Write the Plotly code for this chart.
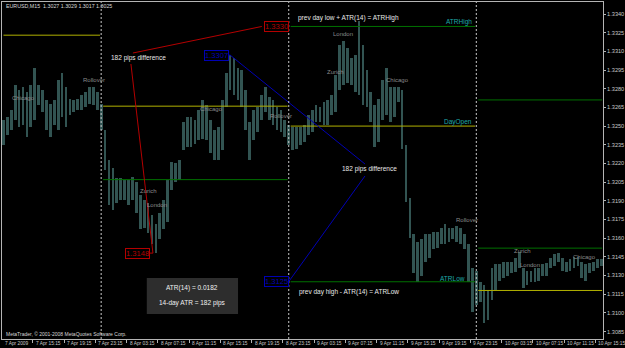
import plotly.graph_objects as go

# ---------------- data ----------------
# bar index = number of 15-minute bars after 8 Apr 2009 00:00 (sampled every 2 bars)
bar_index = list(range(-50, 257, 2))

highs = [
    1.3255, 1.3257, 1.3263, 1.3283, 1.3279, 1.3281, 1.3277, 1.3283, 1.3297, 1.3283,
    1.3279, 1.3271, 1.3268, 1.3271, 1.3287, 1.3293, 1.3281, 1.3272, 1.3271, 1.3272,
    1.3275, 1.3277, 1.3281, 1.3281, 1.3277, 1.3268, 1.3247, 1.3223, 1.3216, 1.3208,
    1.3208, 1.3207, 1.3207, 1.3209, 1.3205, 1.3195, 1.3191, 1.3188, 1.3179, 1.3171,
    1.3180, 1.3191, 1.3207, 1.3221, 1.3220, 1.3223, 1.3253, 1.3257, 1.3257, 1.3255,
    1.3263, 1.3271, 1.3267, 1.3255, 1.3247, 1.3249, 1.3271, 1.3293, 1.3307, 1.3305,
    1.3297, 1.3295, 1.3279, 1.3253, 1.3263, 1.3265, 1.3275, 1.3281, 1.3273, 1.3271,
    1.3265, 1.3263, 1.3255, 1.3251, 1.3249, 1.3249, 1.3249, 1.3251, 1.3259, 1.3263,
    1.3267, 1.3265, 1.3269, 1.3271, 1.3275, 1.3291, 1.3315, 1.3318, 1.3313, 1.3305,
    1.3307, 1.3334, 1.3315, 1.3295, 1.3277, 1.3267, 1.3272, 1.3287, 1.3297, 1.3281,
    1.3281, 1.3281, 1.3279, 1.3235, 1.3192, 1.3163, 1.3157, 1.3159, 1.3163, 1.3163,
    1.3165, 1.3165, 1.3168, 1.3171, 1.3168, 1.3168, 1.3170, 1.3168, 1.3163, 1.3155,
    1.3136, 1.3134, 1.3125, 1.3122, 1.3118, 1.3136, 1.3139, 1.3139, 1.3141, 1.3141,
    1.3141, 1.3144, 1.3149, 1.3136, 1.3134, 1.3134, 1.3136, 1.3136, 1.3139, 1.3140,
    1.3144, 1.3147, 1.3148, 1.3144, 1.3141, 1.3143, 1.3145, 1.3145, 1.3141, 1.3139,
    1.3140, 1.3141, 1.3143, 1.3143,
]

lows = [
    1.3235, 1.3243, 1.3247, 1.3255, 1.3249, 1.3251, 1.3241, 1.3249, 1.3255, 1.3267,
    1.3261, 1.3247, 1.3241, 1.3251, 1.3247, 1.3257, 1.3249, 1.3259, 1.3261, 1.3263,
    1.3263, 1.3265, 1.3268, 1.3267, 1.3263, 1.3247, 1.3215, 1.3187, 1.3183, 1.3188,
    1.3191, 1.3191, 1.3187, 1.3191, 1.3180, 1.3167, 1.3168, 1.3164, 1.3155, 1.3148,
    1.3159, 1.3167, 1.3173, 1.3199, 1.3205, 1.3207, 1.3231, 1.3233, 1.3233, 1.3236,
    1.3239, 1.3240, 1.3239, 1.3228, 1.3223, 1.3223, 1.3231, 1.3265, 1.3279, 1.3275,
    1.3271, 1.3265, 1.3247, 1.3223, 1.3239, 1.3245, 1.3255, 1.3261, 1.3255, 1.3251,
    1.3247, 1.3245, 1.3241, 1.3235, 1.3231, 1.3232, 1.3235, 1.3237, 1.3243, 1.3245,
    1.3253, 1.3253, 1.3251, 1.3251, 1.3259, 1.3261, 1.3279, 1.3283, 1.3285, 1.3283,
    1.3277, 1.3275, 1.3267, 1.3265, 1.3253, 1.3233, 1.3237, 1.3255, 1.3259, 1.3253,
    1.3257, 1.3269, 1.3232, 1.3189, 1.3160, 1.3132, 1.3125, 1.3130, 1.3141, 1.3144,
    1.3151, 1.3152, 1.3155, 1.3155, 1.3157, 1.3159, 1.3157, 1.3155, 1.3151, 1.3125,
    1.3101, 1.3106, 1.3109, 1.3092, 1.3094, 1.3110, 1.3118, 1.3126, 1.3128, 1.3130,
    1.3132, 1.3133, 1.3136, 1.3120, 1.3122, 1.3125, 1.3125, 1.3126, 1.3130, 1.3130,
    1.3136, 1.3138, 1.3141, 1.3134, 1.3133, 1.3134, 1.3136, 1.3138, 1.3128, 1.3126,
    1.3132, 1.3134, 1.3136, 1.3138,
]

# day boundaries (bar index) and indicator levels
day_start = [-51, 0, 96, 192]
day_end = [0, 96, 192, 257]
day_open = [1.3323, 1.3266, 1.3250, 1.3118]
atr_low = [None, 1.3207, 1.3125, 1.3152]
atr_high = [None, None, 1.3330, 1.3271]
separators = [0, 96, 192]

y_tick_vals = [1.3085, 1.3100, 1.3115, 1.3130, 1.3145, 1.3160, 1.3175, 1.3190, 1.3205,
               1.3220, 1.3235, 1.3250, 1.3265, 1.3280, 1.3295, 1.3310, 1.3325, 1.3340]
y_tick_text = ["%.4f" % v for v in y_tick_vals]

x_tick_pos = [-51, -35, -19, -3, 13, 29, 45, 61, 77, 93, 109, 125, 141, 157, 173, 189,
              205, 221, 237, 253]
x_tick_text = ["7 Apr 2009", "7 Apr 15:15", "7 Apr 19:15", "7 Apr 23:15", "8 Apr 03:15",
               "8 Apr 07:15", "8 Apr 11:15", "8 Apr 15:15", "8 Apr 19:15", "8 Apr 23:15",
               "9 Apr 03:15", "9 Apr 07:15", "9 Apr 11:15", "9 Apr 15:15", "9 Apr 19:15",
               "9 Apr 23:15", "10 Apr 03:15", "10 Apr 07:15", "10 Apr 11:15", "10 Apr 15:15"]

# swing points used by the drawn measuring lines
day8_low_bar, day8_low = 27, 1.3148
day8_high_bar, day8_high = 66, 1.3307
atr_value_text = "ATR(14) = 0.0182"
atr_pips_text = "14-day ATR = 182 pips"

# ---------------- geometry helpers (axis ranges) ----------------
X0, X1 = -50.76, 256.85
Y0, Y1 = 1.307903, 1.334964
W, H = 625, 348
ML, MR, MT, MB = 1, 18, 2, 9
PW, PH = W - ML - MR, H - MT - MB


def K(px):
    return X0 + (px - ML) / PW * (X1 - X0)


def P(py):
    return Y1 - (py - MT) / PH * (Y1 - Y0)


FONT = "Liberation Sans, Arial, sans-serif"
BAR_COL = "#325452"
YELLOW = "#b0b000"
GREEN = "#007000"
TEAL = "#1fa8a8"
RED = "#b40000"
BLUE = "#0000b4"
GRAY = "#8a8a8a"

fig = go.Figure()

fig.add_trace(go.Bar(
    x=bar_index, y=[h - l for h, l in zip(highs, lows)], base=lows,
    width=1.4, marker=dict(color=BAR_COL, line=dict(width=0)),
    hoverinfo="skip", showlegend=False))

# indicator level lines
lx, ly = [], []
for s, e, v in zip(day_start, day_end, day_open):
    lx += [max(s + 1, X0 + 0.5), e - 0.6, None]
    ly += [v, v, None]
fig.add_trace(go.Scatter(x=lx, y=ly, mode="lines", line=dict(color=YELLOW, width=1),
                         hoverinfo="skip", showlegend=False))
gx, gy = [], []
for s, e, a, b in zip(day_start, day_end, atr_low, atr_high):
    for v in (a, b):
        if v is not None:
            gx += [s + 1, min(e - 0.6, X1), None]
            gy += [v, v, None]
fig.add_trace(go.Scatter(x=gx, y=gy, mode="lines", line=dict(color=GREEN, width=1),
                         hoverinfo="skip", showlegend=False))

# red measuring lines (from text to ATRHigh label and to day low)
red_x = [K(133), K(263), None, K(131), day8_low_bar - 0.5, None, K(150), day8_low_bar - 0.5]
red_y = [P(53), atr_high[2], None, P(64), day8_low, None, day8_low, day8_low]
fig.add_trace(go.Scatter(x=red_x, y=red_y, mode="lines", line=dict(color=RED, width=1),
                         hoverinfo="skip", showlegend=False))
# blue measuring lines (from day high to text and to ATRLow label)
blue_x = [K(229), day8_high_bar, K(367), None, K(367), K(290)]
blue_y = [day8_high, day8_high, P(164), None, P(176), atr_low[2]]
fig.add_trace(go.Scatter(x=blue_x, y=blue_y, mode="lines", line=dict(color=BLUE, width=1),
                         hoverinfo="skip", showlegend=False))

shapes = []
for s in separators:
    shapes.append(dict(type="line", xref="x", yref="paper", x0=s, x1=s, y0=0, y1=1,
                       line=dict(color="#c8c8c8", width=1, dash="2px,2px")))
shapes.append(dict(type="rect", xref="x", yref="y", x0=K(147), x1=K(239), y0=P(314), y1=P(278),
                   fillcolor="#2d2d2d", line=dict(width=0), layer="above"))

ann = []


def text(t, px, py, color, size, anchor="center", **kw):
    ann.append(dict(text=t, x=K(px), y=P(py), xref="x", yref="y", showarrow=False,
                    xanchor=anchor, yanchor="middle", font=dict(family=FONT, size=size, color=color),
                    **kw))


# session labels
for t, px, py in [("Chicago", 23, 98), ("Rollover", 94, 80), ("Zurich", 149, 191),
                  ("London", 157, 205), ("Chicago", 212, 109), ("Rollover", 282, 116),
                  ("London", 345, 34), ("Zurich", 337, 72), ("Chicago", 400, 80),
                  ("Rollover", 470, 220), ("Zurich", 526, 251), ("London", 533, 265),
                  ("Chicago", 588, 257)]:
    text(t, px, py, GRAY, 6)

text("182 pips difference", 109, 58, "#e8e8e8", 6.5, "left")
text("182 pips difference", 342, 169, "#e8e8e8", 6.5, "left")
text("prev day low + ATR(14) = ATRHigh", 297, 18, "#e8e8e8", 6.5, "left")
text("prev day high - ATR(14) = ATRLow", 298, 292, "#e8e8e8", 6.5, "left")
text("ATRHigh", 477, 22, TEAL, 6.5, "right")
text("DayOpen", 477, 122, TEAL, 6.5, "right")
text("ATRLow", 470, 278, TEAL, 6.5, "right")
text(atr_value_text, 193, 288, "#f0f0f0", 6.5)
text(atr_pips_text, 193, 303, "#f0f0f0", 6.5)
text("EURUSD,M15  1.3027 1.3029 1.3017 1.3025", 3, 6, "#d8d8d8", 5.3, "left")
text("MetaTrader, © 2001-2008 MetaQuotes Software Corp.", 3, 334, "#d8d8d8", 5, "left")

# price label boxes
for val, anchor_x, col in [(atr_high[2], K(290), RED), (day8_high, K(229.5), BLUE),
                           (day8_low, K(150.5), RED), (atr_low[2], K(290), BLUE)]:
    ann.append(dict(text="%.4f" % val, x=anchor_x, y=val, xref="x", yref="y", showarrow=False,
                    xanchor="right", yanchor="middle", bgcolor="#000000", bordercolor=col,
                    borderwidth=1, borderpad=0, font=dict(family=FONT, size=7.6, color=col)))

# x tick labels (left aligned like MetaTrader)
for pos, t in zip(x_tick_pos, x_tick_text):
    ann.append(dict(text=t, x=max(pos, X0), y=0, xref="x", yref="paper", showarrow=False,
                    xanchor="left", yanchor="top", xshift=1, yshift=0,
                    font=dict(family=FONT, size=4.8, color="#c8c8c8")))

fig.update_layout(
    width=W, height=H, margin=dict(l=ML, r=MR, t=MT, b=MB, pad=0),
    paper_bgcolor="#000000", plot_bgcolor="#000000", bargap=0,
    shapes=shapes, annotations=ann, showlegend=False,
    font=dict(family=FONT, color="#c8c8c8"),
    xaxis=dict(range=[X0, X1], showgrid=False, zeroline=False, showline=True, mirror=True,
               linecolor="#b4b4b4", linewidth=1, ticks="outside", ticklen=3, tickcolor="#b4b4b4",
               tickvals=x_tick_pos[1:], showticklabels=False, fixedrange=True),
    yaxis=dict(range=[Y0, Y1], side="right", showgrid=False, zeroline=False, showline=True,
               mirror=True, linecolor="#b4b4b4", linewidth=1, ticks="outside", ticklen=2,
               tickcolor="#b4b4b4", tickvals=y_tick_vals, ticktext=y_tick_text,
               tickfont=dict(family=FONT, size=5.6, color="#c8c8c8"), fixedrange=True),
)

fig.write_html("out.html", config={"displayModeBar": False})
